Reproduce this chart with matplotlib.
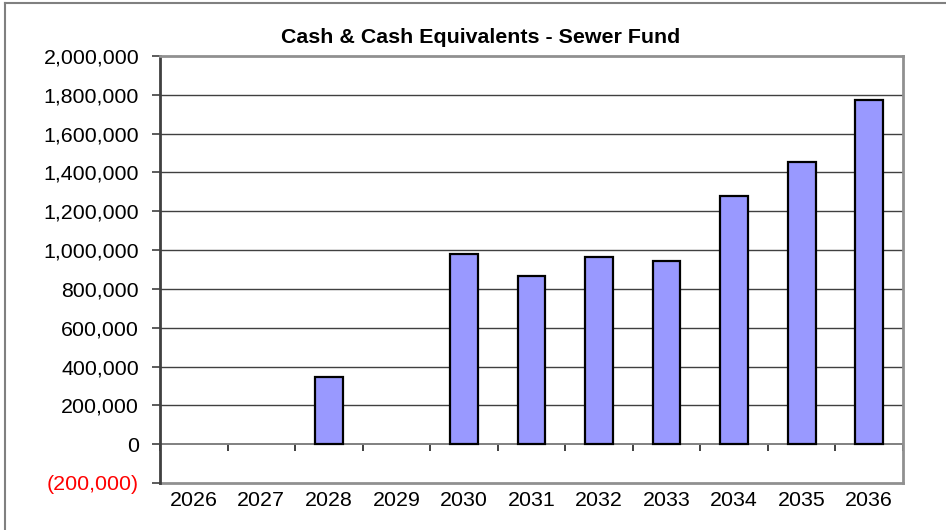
import numpy as np
import matplotlib
matplotlib.use("Agg")
import matplotlib.pyplot as plt
from matplotlib.lines import Line2D

plt.rcParams['font.family'] = ['Liberation Sans', 'DejaVu Sans']

years = ['2026', '2027', '2028', '2029', '2030', '2031', '2032', '2033', '2034', '2035', '2036']
cash = [0, 0, 345000, 0, 979000, 866000, 964000, 943000, 1277000, 1452000, 1771000]
yticks = list(range(-200000, 2000001, 200000))

fig = plt.figure(figsize=(9.46, 5.30), dpi=100)
ax = fig.add_axes([160/946, 47/530, 743/946, 427/530])

x = np.arange(len(years))
# empty years have no bar drawn at all
edges = ['black' if v != 0 else 'none' for v in cash]
ax.bar(x, cash, width=0.41, color='#9999FF', edgecolor=edges, linewidth=1.6, zorder=3)

ax.set_xlim(-0.5, len(years) - 0.5)
ax.set_ylim(-200000, 2000000)

# gridlines
for v in yticks:
    if 0 < v < 2000000:
        ax.axhline(v, color='#404040', lw=1.0, zorder=1)

# y axis
ax.set_yticks(yticks)
def fmt(v):
    return '({:,})'.format(-v) if v < 0 else '{:,}'.format(v)
ax.set_yticklabels([fmt(v) for v in yticks], fontsize=15.4)
for lab, v in zip(ax.get_yticklabels(), yticks):
    if v < 0:
        lab.set_color('red')
ax.tick_params(axis='y', direction='out', length=6, width=1.2, color='#404040', pad=9)

# category axis crossing at zero, ticks on category boundaries
ax.spines['bottom'].set_position(('data', 0))
ax.spines['bottom'].set_color('#808080')
ax.spines['bottom'].set_linewidth(1.4)
ax.spines['bottom'].set_zorder(2)
ax.set_xticks(np.arange(len(years) + 1) - 0.5)
ax.set_xticklabels([])
ax.tick_params(axis='x', direction='out', length=5, width=1.2, color='#202020')

ax.spines['left'].set_color('#404040')
ax.spines['left'].set_linewidth(2.0)
for s in ['top', 'right']:
    ax.spines[s].set_color('#909090')
    ax.spines[s].set_linewidth(2.0)

# year labels under the plot area
sec = ax.secondary_xaxis(0)
sec.set_xticks(x)
sec.set_xticklabels(years, fontsize=15.4)
sec.tick_params(length=0, pad=6)
sec.spines['bottom'].set_color('#909090')
sec.spines['bottom'].set_linewidth(2.0)

fig.text(0.508, 0.93, 'Cash & Cash Equivalents - Sewer Fund', ha='center', va='center',
         fontsize=15.4, fontweight='bold')

# outer chart border (left and top visible)
fig.add_artist(Line2D([5/946, 5/946], [0, 1 - 3/530], transform=fig.transFigure, color='#808080', lw=1.5))
fig.add_artist(Line2D([5/946, 1], [1 - 3/530, 1 - 3/530], transform=fig.transFigure, color='#808080', lw=1.5))

fig.savefig('out.png', dpi=100)
